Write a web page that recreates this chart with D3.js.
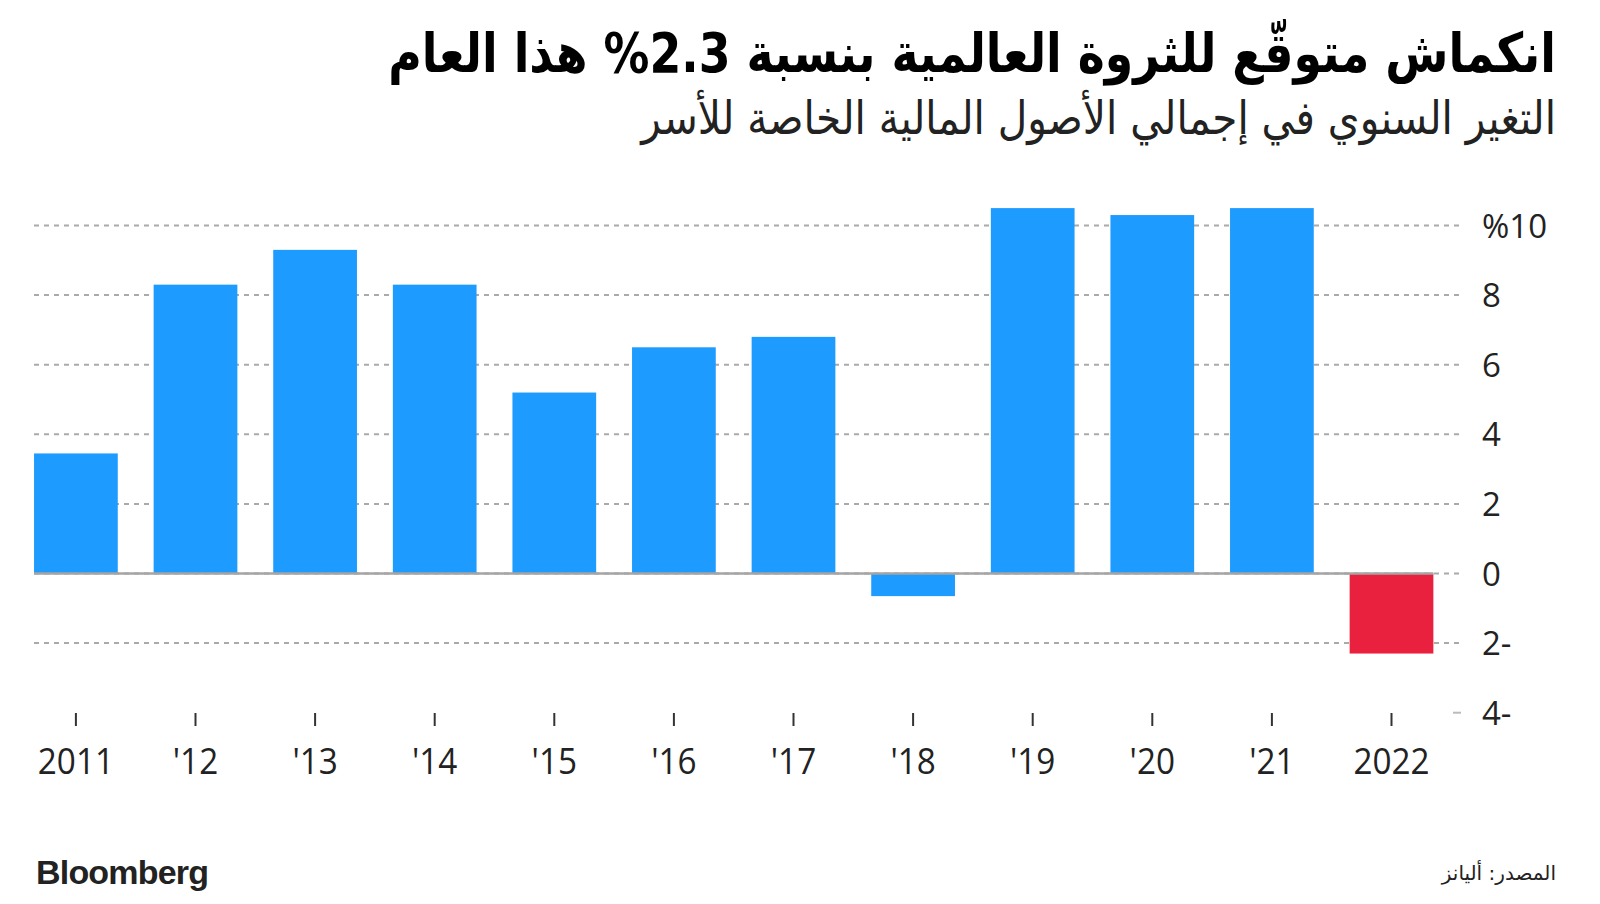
<!DOCTYPE html>
<html>
<head>
<meta charset="utf-8">
<script src="https://cdn.jsdelivr.net/npm/d3@7"></script>
<style>
  body { margin: 0; background: #fff; }
</style>
</head>
<body>
<div id="chart"></div>
<script>
// Data
var years = ["2011", "'12", "'13", "'14", "'15", "'16", "'17", "'18", "'19", "'20", "'21", "2022"];
var values = [3.45, 8.3, 9.3, 8.3, 5.2, 6.5, 6.8, -0.65, 10.5, 10.3, 10.5, -2.3];
var yTicks = [-4, -2, 0, 2, 4, 6, 8, 10];
var yTickLabels = ["4-", "2-", "0", "2", "4", "6", "8", "%10"];

var title = "انكماش متوقّع للثروة العالمية بنسبة 2.3% هذا العام";
var subtitle = "التغير السنوي في إجمالي الأصول المالية الخاصة للأسر";
var source = "المصدر: أليانز";

var width = 1600, height = 904;

var svg = d3.select("#chart")
    .append("svg")
    .attr("width", width)
    .attr("height", height);

// fit a text element to a target width, squeezed horizontally by sx
function fitCondensed(sel, w, sx, px, py) {
    var len = sel.node().getComputedTextLength();
    var fs = parseFloat(sel.attr("font-size"));
    sel.attr("font-size", fs * w / (len * sx))
        .attr("transform", "translate(" + px + "," + py + ") scale(" + sx + ",1)");
}

// Titles
var t = svg.append("text")
    .attr("x", 0).attr("y", 0)
    .attr("text-anchor", "end")
    .attr("font-family", "DejaVu Sans")
    .attr("font-weight", "bold")
    .attr("font-size", 44)
    .attr("fill", "#000")
    .text(title);
fitCondensed(t, 1168, 0.84, 1556, 72);

var st = svg.append("text")
    .attr("x", 0).attr("y", 0)
    .attr("text-anchor", "end")
    .attr("font-family", "DejaVu Sans")
    .attr("font-size", 32)
    .attr("fill", "#222")
    .text(subtitle);
fitCondensed(st, 915, 0.88, 1556, 134);

// Scales
var x = d3.scaleBand()
    .domain(years)
    .range([16.1, 1451.3])
    .paddingInner(0.3)
    .paddingOuter(0.15);

var y = d3.scaleLinear()
    .domain([-4, 10])
    .range([712.7, 225.5]);

var gridLeft = 34, gridRight = 1461;

// Gridlines
svg.append("g").selectAll("line")
    .data(yTicks.filter(function (d) { return d > -4; }))
    .enter().append("line")
    .attr("x1", gridLeft).attr("x2", gridRight)
    .attr("y1", function (d) { return y(d); })
    .attr("y2", function (d) { return y(d); })
    .attr("stroke", "#aaa")
    .attr("stroke-width", 2)
    .attr("stroke-dasharray", "5,5");

svg.append("line")
    .attr("x1", 1453).attr("x2", gridRight)
    .attr("y1", y(-4)).attr("y2", y(-4))
    .attr("stroke", "#bbb")
    .attr("stroke-width", 2);

// Bars
svg.append("g").selectAll("rect")
    .data(values)
    .enter().append("rect")
    .attr("x", function (d, i) { return x(years[i]); })
    .attr("width", x.bandwidth())
    .attr("y", function (d) { return y(Math.max(0, d)); })
    .attr("height", function (d) { return Math.abs(y(d) - y(0)); })
    .attr("fill", function (d, i) { return i === values.length - 1 ? "#ea213e" : "#1d9bff"; });

// Zero line
svg.append("line")
    .attr("x1", gridLeft).attr("x2", x(years[years.length - 1]) + x.bandwidth())
    .attr("y1", y(0)).attr("y2", y(0))
    .attr("stroke", "#a5a5a5")
    .attr("stroke-width", 2.5);

// Y axis labels
svg.append("g").selectAll("text")
    .data(yTicks)
    .enter().append("text")
    .attr("x", 1482)
    .attr("y", function (d) { return y(d) + 12; })
    .attr("font-family", "Open Sans")
    .attr("font-size", 33)
    .attr("fill", "#222")
    .text(function (d, i) { return yTickLabels[i]; });

// X axis ticks and labels
var xa = svg.append("g");
xa.selectAll("line")
    .data(years)
    .enter().append("line")
    .attr("x1", function (d) { return x(d) + x.bandwidth() / 2; })
    .attr("x2", function (d) { return x(d) + x.bandwidth() / 2; })
    .attr("y1", 713).attr("y2", 726)
    .attr("stroke", "#333")
    .attr("stroke-width", 2);

xa.selectAll("text")
    .data(years)
    .enter().append("text")
    .attr("transform", function (d) { return "translate(" + (x(d) + x.bandwidth() / 2) + ",774) scale(0.9,1)"; })
    .attr("text-anchor", "middle")
    .attr("font-family", "Open Sans")
    .attr("font-size", 37)
    .attr("fill", "#222")
    .text(function (d) { return d; });

// Footer
svg.append("text")
    .attr("x", 36).attr("y", 884)
    .attr("font-family", "Liberation Sans, Arial")
    .attr("font-weight", "bold")
    .attr("font-size", 34)
    .attr("letter-spacing", -0.8)
    .attr("fill", "#222")
    .text("Bloomberg");

svg.append("text")
    .attr("x", 1556).attr("y", 880)
    .attr("text-anchor", "end")
    .attr("font-family", "DejaVu Sans")
    .attr("font-size", 20)
    .attr("fill", "#222")
    .text(source);
</script>
</body>
</html>
